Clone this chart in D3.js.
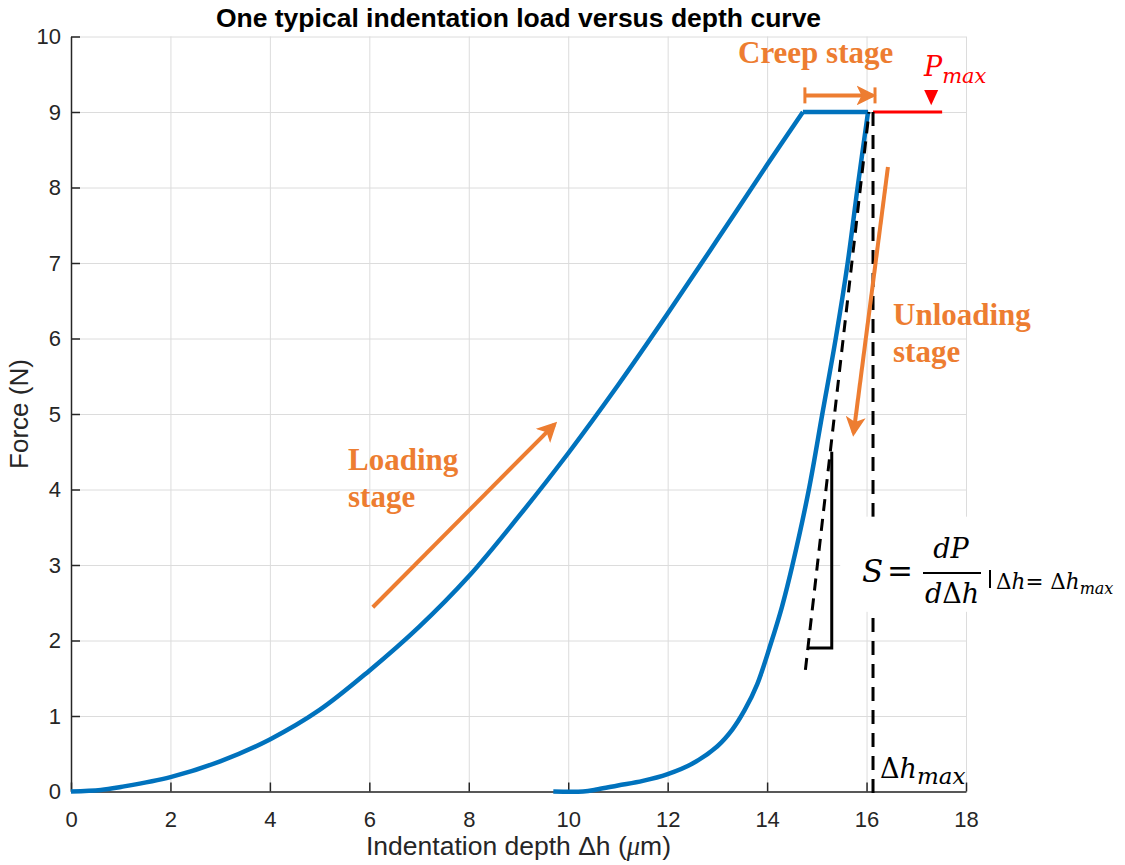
<!DOCTYPE html>
<html>
<head>
<meta charset="utf-8">
<script src="https://cdn.jsdelivr.net/npm/d3@7"></script>
<style>
  html, body { margin: 0; padding: 0; background: #fff; overflow: hidden; }
  svg { display: block; overflow: visible; }
  .grid line { stroke: #dcdcdc; stroke-width: 1; }
  .grid path { display: none; }
</style>
</head>
<body>
<svg id="chart" width="1125" height="865"></svg>
<script>
// Loading stage (depth um, force N)
const loadDepth = [0, 0.6, 1, 2, 3, 4, 5, 6, 7, 8, 9, 10, 11, 12, 13, 14, 14.72];
const loadForce = [0, 0.02, 0.06, 0.19, 0.40, 0.69, 1.08, 1.60, 2.18, 2.85, 3.64, 4.48, 5.38, 6.33, 7.31, 8.30, 9.0];

// Creep stage (hold at Pmax)
const creepDepth = [14.72, 16.03];
const creepForce = [9.0, 9.0];

// Unloading stage, listed from low to high depth
const unloadDepth = [9.7, 10.3, 10.6, 11.0, 11.5, 12.0, 12.5, 13.0, 13.3, 13.55, 13.8, 14.07, 14.3, 14.51, 14.84, 15.11, 15.38, 15.62, 15.82, 16.03];
const unloadForce = [0, 0, 0.03, 0.08, 0.14, 0.23, 0.37, 0.60, 0.82, 1.08, 1.42, 1.95, 2.45, 3.0, 4.0, 5.0, 6.0, 7.0, 8.0, 9.0];

// Annotation lines
const tangentDepth = [14.77, 16.05];
const tangentForce = [1.61, 9.0];
const hmaxDepth = 16.13;
const pmaxDepth = [16.13, 17.52];
const pmaxForce = 9.0;
const slopeDepth = [14.82, 15.30, 15.30];
const slopeForce = [1.90, 1.90, 4.5];

const xTicks = [0, 2, 4, 6, 8, 10, 12, 14, 16, 18];
const yTicks = [0, 1, 2, 3, 4, 5, 6, 7, 8, 9, 10];

const width = 1125, height = 865;
const margin = { left: 71, right: 159, top: 36.5, bottom: 73.5 };
const innerWidth = width - margin.left - margin.right;
const innerHeight = height - margin.top - margin.bottom;

const sans = '"Liberation Sans", Arial, sans-serif';
const serif = '"Liberation Serif", "Times New Roman", serif';
const math = '"DejaVu Serif", serif';
const orange = '#ed7d31';

const svg = d3.select('#chart');

const defs = svg.append('defs');
defs.append('marker')
    .attr('id', 'orange-head')
    .attr('viewBox', '0 0 10 10')
    .attr('refX', 8).attr('refY', 5)
    .attr('markerWidth', 5).attr('markerHeight', 5)
    .attr('orient', 'auto')
    .append('path')
    .attr('d', 'M0,0 L10,5 L0,10 L2.5,5 Z')
    .attr('fill', orange);

const g = svg.append('g')
    .attr('transform', `translate(${margin.left},${margin.top})`);

const x = d3.scaleLinear().domain([0, 18]).range([0, innerWidth]);
const y = d3.scaleLinear().domain([0, 10]).range([innerHeight, 0]);

// Grid
g.append('g')
    .attr('class', 'grid')
    .call(d3.axisLeft(y).tickValues(yTicks).tickSize(-innerWidth).tickFormat(''))
    .call(s => s.selectAll('text').remove());
g.append('g')
    .attr('class', 'grid')
    .attr('transform', `translate(0,${innerHeight})`)
    .call(d3.axisBottom(x).tickValues(xTicks).tickSize(-innerHeight).tickFormat(''))
    .call(s => s.selectAll('text').remove());

// Axes (ticks point inward, MATLAB style)
const xAxis = g.append('g')
    .attr('transform', `translate(0,${innerHeight})`)
    .call(d3.axisBottom(x).tickValues(xTicks).tickSizeInner(-9).tickSizeOuter(0).tickPadding(20));
const yAxis = g.append('g')
    .call(d3.axisLeft(y).tickValues(yTicks).tickSizeInner(-9).tickSizeOuter(0).tickPadding(10));
[xAxis, yAxis].forEach(ax => {
    ax.attr('font-family', sans).attr('font-size', 22);
    ax.select('.domain').attr('stroke', '#262626').attr('stroke-width', 1.5);
    ax.selectAll('.tick line').attr('stroke', '#262626').attr('stroke-width', 1.5);
    ax.selectAll('.tick text').attr('fill', '#262626');
});

// Axis labels
g.append('text')
    .attr('x', innerWidth / 2)
    .attr('y', innerHeight + 63)
    .attr('text-anchor', 'middle')
    .attr('font-family', sans)
    .attr('font-size', 26.5)
    .attr('fill', '#262626')
    .html('Indentation depth Δh (<tspan font-style="italic" font-family="Liberation Serif">μ</tspan>m)');

g.append('text')
    .attr('transform', 'rotate(-90)')
    .attr('x', -innerHeight / 2)
    .attr('y', -43)
    .attr('text-anchor', 'middle')
    .attr('font-family', sans)
    .attr('font-size', 26)
    .attr('fill', '#262626')
    .text('Force (N)');

// Title
svg.append('text')
    .attr('x', margin.left + innerWidth / 2)
    .attr('y', 27)
    .attr('text-anchor', 'middle')
    .attr('font-family', sans)
    .attr('font-size', 26.5)
    .attr('font-weight', 'bold')
    .attr('fill', '#000')
    .text('One typical indentation load versus depth curve');

// Curves
const line = d3.line()
    .x(d => x(d[0]))
    .y(d => y(d[1]))
    .curve(d3.curveCatmullRom.alpha(0.5));
const straight = d3.line().x(d => x(d[0])).y(d => y(d[1]));

const blue = '#0072bd';
g.append('path')
    .datum(d3.zip(loadDepth, loadForce))
    .attr('d', line)
    .attr('fill', 'none').attr('stroke', blue).attr('stroke-width', 4.5);
g.append('path')
    .datum(d3.zip(creepDepth, creepForce))
    .attr('d', straight)
    .attr('fill', 'none').attr('stroke', blue).attr('stroke-width', 4.5);
g.append('path')
    .datum(d3.zip(unloadDepth, unloadForce))
    .attr('d', line)
    .attr('fill', 'none').attr('stroke', blue).attr('stroke-width', 4.5);

// Pmax line and marker
g.append('line')
    .attr('x1', x(pmaxDepth[0])).attr('x2', x(pmaxDepth[1]))
    .attr('y1', y(pmaxForce)).attr('y2', y(pmaxForce))
    .attr('stroke', '#ff0000').attr('stroke-width', 3);
g.append('path')
    .attr('d', `M${x(17.3) - 7},${y(9.29)} L${x(17.3) + 7},${y(9.29)} L${x(17.3)},${y(9.09)} Z`)
    .attr('fill', '#ff0000');
svg.append('text')
    .attr('x', 924).attr('y', 76)
    .attr('fill', '#ff0000')
    .attr('font-family', math)
    .attr('font-style', 'italic')
    .attr('font-size', 27)
    .html('P<tspan dy="7" font-size="21">max</tspan>');

// Tangent line (dashed) and Δh_max line
g.append('path')
    .datum(d3.zip(tangentDepth, tangentForce))
    .attr('d', straight)
    .attr('fill', 'none').attr('stroke', '#000').attr('stroke-width', 3)
    .attr('stroke-dasharray', '12 8');
g.append('line')
    .attr('x1', x(hmaxDepth)).attr('x2', x(hmaxDepth))
    .attr('y1', y(9)).attr('y2', y(-0.05))
    .attr('stroke', '#000').attr('stroke-width', 3)
    .attr('stroke-dasharray', '14 9');

// Slope triangle
g.append('path')
    .datum(d3.zip(slopeDepth, slopeForce))
    .attr('d', straight)
    .attr('fill', 'none').attr('stroke', '#000').attr('stroke-width', 3);

// Creep stage bracket
const by = y(9.22);
g.append('line')
    .attr('x1', x(14.76)).attr('x2', x(16.12))
    .attr('y1', by).attr('y2', by)
    .attr('stroke', orange).attr('stroke-width', 4)
    .attr('marker-end', 'url(#orange-head)');
[14.76, 16.17].forEach(d => {
    g.append('line')
        .attr('x1', x(d)).attr('x2', x(d))
        .attr('y1', by - 8).attr('y2', by + 8)
        .attr('stroke', orange).attr('stroke-width', 3);
});

// Loading / unloading arrows
g.append('line')
    .attr('x1', x(6.07)).attr('y1', y(2.44))
    .attr('x2', x(9.72)).attr('y2', y(4.86))
    .attr('stroke', orange).attr('stroke-width', 4)
    .attr('marker-end', 'url(#orange-head)');
g.append('line')
    .attr('x1', x(16.43)).attr('y1', y(8.27))
    .attr('x2', x(15.74)).attr('y2', y(4.75))
    .attr('stroke', orange).attr('stroke-width', 4)
    .attr('marker-end', 'url(#orange-head)');

// Stage labels
function stageLabel(lines, px, py) {
    const t = svg.append('text')
        .attr('x', px).attr('y', py)
        .attr('font-family', serif).attr('font-weight', 'bold')
        .attr('font-size', 31).attr('fill', orange);
    lines.forEach((s, i) => t.append('tspan').attr('x', px).attr('dy', i ? 37 : 0).text(s));
}
stageLabel(['Creep stage'], 738, 63);
stageLabel(['Loading', 'stage'], 348, 470);
stageLabel(['Unloading', 'stage'], 893, 325);

// Stiffness formula, drawn on a white patch
g.append('rect')
    .attr('x', x(15.47)).attr('y', y(3.64))
    .attr('width', width - margin.left - x(15.47) - 3)
    .attr('height', y(2.38) - y(3.64))
    .attr('fill', '#fff');
const f = svg.append('g').attr('font-family', math).attr('fill', '#000');
f.append('text').attr('x', 862).attr('y', 582).attr('font-size', 31).attr('font-style', 'italic').text('S');
f.append('text').attr('x', 887).attr('y', 582).attr('font-size', 31).text('=');
f.append('line').attr('x1', 923).attr('x2', 981).attr('y1', 573).attr('y2', 573).attr('stroke', '#000').attr('stroke-width', 2);
f.append('text').attr('x', 951).attr('y', 558).attr('text-anchor', 'middle').attr('font-size', 27).attr('font-style', 'italic').text('dP');
f.append('text').attr('x', 952).attr('y', 603).attr('text-anchor', 'middle').attr('font-size', 27)
    .html('<tspan font-style="italic">d</tspan>Δ<tspan font-style="italic">h</tspan>');
f.append('line').attr('x1', 990).attr('x2', 990).attr('y1', 570).attr('y2', 588).attr('stroke', '#000').attr('stroke-width', 2);
f.append('text').attr('x', 996).attr('y', 589).attr('font-size', 21.5)
    .html('Δ<tspan font-style="italic">h</tspan>= Δ<tspan font-style="italic">h<tspan dy="5" font-size="16">max</tspan></tspan>');

// Δh_max label at the bottom
svg.append('text')
    .attr('x', 880).attr('y', 778)
    .attr('font-family', math)
    .attr('font-size', 27)
    .attr('fill', '#000')
    .html('Δ<tspan font-style="italic">h<tspan dy="6" font-size="23">max</tspan></tspan>');
</script>
</body>
</html>
